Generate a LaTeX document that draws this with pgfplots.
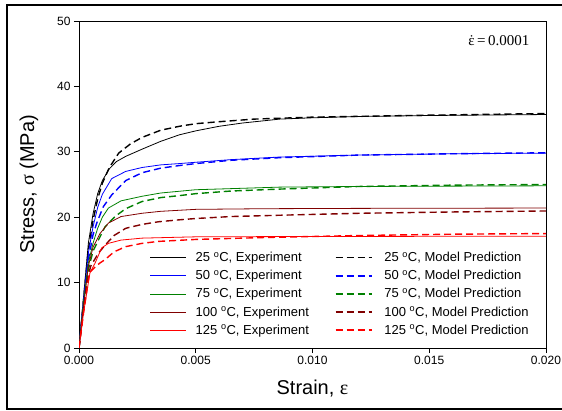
\documentclass[border=0pt]{standalone}
\usepackage{pgfplots}
\pgfplotsset{compat=1.18}
\usepackage{fontspec}
\setmainfont{Liberation Sans}
\newfontfamily\serif{Liberation Serif}
\definecolor{maroonc}{RGB}{128,0,0}
\definecolor{greenc}{RGB}{0,128,0}
\begin{document}
\begin{tikzpicture}
\useasboundingbox (0bp,0bp) rectangle (562bp,411bp);
\draw[line width=1.2bp] (600bp,406bp) -- (7bp,406bp) -- (7bp,2bp) -- (600bp,2bp);
\begin{axis}[
  at={(79bp,63bp)}, anchor=south west,
  scale only axis, width=467bp, height=327bp,
  xmin=0, xmax=0.02, ymin=0, ymax=50,
  xtick={0,0.005,0.01,0.015,0.02},
  ytick={0,10,20,30,40,50},
  scaled x ticks=false,
  xticklabel style={/pgf/number format/.cd, fixed, fixed zerofill, precision=3},
  /pgf/number format/assume math mode=true,
  tick pos=left, tick align=outside,
  major tick length=5bp,
  axis line style={line width=0.9bp},
  every tick/.style={black, line width=0.9bp},
  ticklabel style={font=\fontsize{12bp}{14bp}\selectfont},
  xlabel={Strain, {\serif ε}},
  ylabel={Stress, {\serif σ} (MPa)},
  label style={font=\fontsize{20bp}{24bp}\selectfont},
  xlabel style={at={(axis description cs:0.5,-0.125)}, anchor=center},
  ylabel style={at={(axis description cs:-0.107,0.5)}, anchor=center},
  legend columns=2,
  legend cell align=left,
  legend image code/.code={\draw[#1] (0bp,0bp) -- (36bp,0bp);},
  legend style={draw=none, fill=none, at={(axis description cs:0.145,0.025)}, anchor=south west,
    font=\fontsize{13bp}{15bp}\selectfont, row sep=3.2bp,
    /tikz/column 1/.style={column sep=7bp},
    /tikz/column 2/.style={column sep=24bp},
    /tikz/column 3/.style={column sep=10bp}},
  exp/.style={line width=0.8bp, solid},
  mod/.style={line width=1.4bp, dash pattern=on 7bp off 4bp},
]
% 25 C
\addplot[black, exp] coordinates {(0,0)(0.0002,8)(0.0004,16)(0.0006,20.5)(0.0008,23.6)(0.001,25.6)(0.0013,27.4)(0.0016,28.5)(0.002,29.3)(0.0027,30.4)(0.0035,31.6)(0.0043,32.6)(0.005,33.2)(0.006,33.9)(0.007,34.4)(0.0086,35.0)(0.01,35.2)(0.012,35.4)(0.015,35.55)(0.02,35.7)};
\addlegendentry{25 \textsuperscript{o}C, Experiment}
\addplot[black, mod] coordinates {(0,0)(0.0002,7.5)(0.0004,15)(0.0006,19.5)(0.0008,22.8)(0.001,25.2)(0.0013,27.6)(0.0017,29.8)(0.0022,31.2)(0.0027,32.2)(0.0035,33.3)(0.0043,33.9)(0.005,34.3)(0.006,34.6)(0.0075,35.0)(0.01,35.3)(0.015,35.6)(0.02,35.85)};
\addlegendentry{25 \textsuperscript{o}C, Model Prediction}
% 50 C
\addplot[blue, exp] coordinates {(0,0)(0.0002,7.5)(0.0004,14.5)(0.0006,18.5)(0.0008,21.5)(0.001,23.5)(0.0014,25.9)(0.002,27.0)(0.0027,27.6)(0.0035,28.0)(0.0043,28.2)(0.005,28.4)(0.0065,28.8)(0.0086,29.2)(0.012,29.5)(0.016,29.7)(0.02,29.8)};
\addlegendentry{50 \textsuperscript{o}C, Experiment}
\addplot[blue, mod] coordinates {(0,0)(0.0002,7)(0.0004,13.5)(0.0006,17.3)(0.00076,19.1)(0.00104,21.6)(0.0014,23.4)(0.002,25.6)(0.0027,26.8)(0.0035,27.5)(0.0043,27.9)(0.005,28.2)(0.0065,28.7)(0.0086,29.1)(0.012,29.5)(0.016,29.7)(0.02,29.85)};
\addlegendentry{50 \textsuperscript{o}C, Model Prediction}
% 75 C
\addplot[greenc, exp] coordinates {(0,0)(0.0002,7)(0.0004,13)(0.0006,16)(0.0008,18.3)(0.001,20.0)(0.00126,21.4)(0.0018,22.5)(0.0027,23.2)(0.0035,23.7)(0.005,24.2)(0.0086,24.6)(0.012,24.7)(0.02,24.8)};
\addlegendentry{75 \textsuperscript{o}C, Experiment}
\addplot[greenc, mod] coordinates {(0,0)(0.0002,6.5)(0.0004,12)(0.0006,14.8)(0.00083,16.5)(0.00111,18.5)(0.00154,20.1)(0.002,21.3)(0.0027,22.4)(0.0035,23.0)(0.0043,23.3)(0.005,23.6)(0.0065,24.0)(0.0086,24.3)(0.012,24.7)(0.016,24.9)(0.02,25.0)};
\addlegendentry{75 \textsuperscript{o}C, Model Prediction}
% 100 C
\addplot[maroonc, exp] coordinates {(0,0)(0.0002,6.5)(0.0004,12.5)(0.0006,15.4)(0.0009,17.5)(0.00126,19.1)(0.0018,20.1)(0.0027,20.6)(0.0035,20.9)(0.005,21.2)(0.008,21.3)(0.012,21.35)(0.02,21.4)};
\addlegendentry{100 \textsuperscript{o}C, Experiment}
\addplot[maroonc, mod] coordinates {(0,0)(0.0002,6)(0.0004,11)(0.0005,12.5)(0.00083,14.5)(0.00111,15.7)(0.0015,17.2)(0.002,18.3)(0.0027,18.9)(0.0034,19.3)(0.0043,19.6)(0.005,19.8)(0.0065,20.1)(0.0086,20.3)(0.012,20.6)(0.016,20.8)(0.02,20.95)};
\addlegendentry{100 \textsuperscript{o}C, Model Prediction}
% 125 C
\addplot[red, exp] coordinates {(0,0)(0.0002,5.5)(0.00047,11.5)(0.00069,13)(0.00097,15.3)(0.00126,16.0)(0.0018,16.5)(0.0027,16.8)(0.005,17.0)(0.01,17.05)(0.02,17.1)};
\addlegendentry{125 \textsuperscript{o}C, Experiment}
\addplot[red, mod] coordinates {(0,0)(0.0002,5.5)(0.00045,11.5)(0.00069,12.4)(0.0009,13.0)(0.00111,13.5)(0.0015,14.7)(0.002,15.5)(0.0027,16.0)(0.0034,16.3)(0.005,16.6)(0.008,16.9)(0.012,17.2)(0.016,17.4)(0.02,17.5)};
\addlegendentry{125 \textsuperscript{o}C, Model Prediction}
\node[anchor=base east, font=\serif\fontsize{15bp}{18bp}\selectfont] at (axis description cs:0.972,0.925) {\accent"02D9 ε\,=\,0.0001};
\end{axis}
\end{tikzpicture}
\end{document}
